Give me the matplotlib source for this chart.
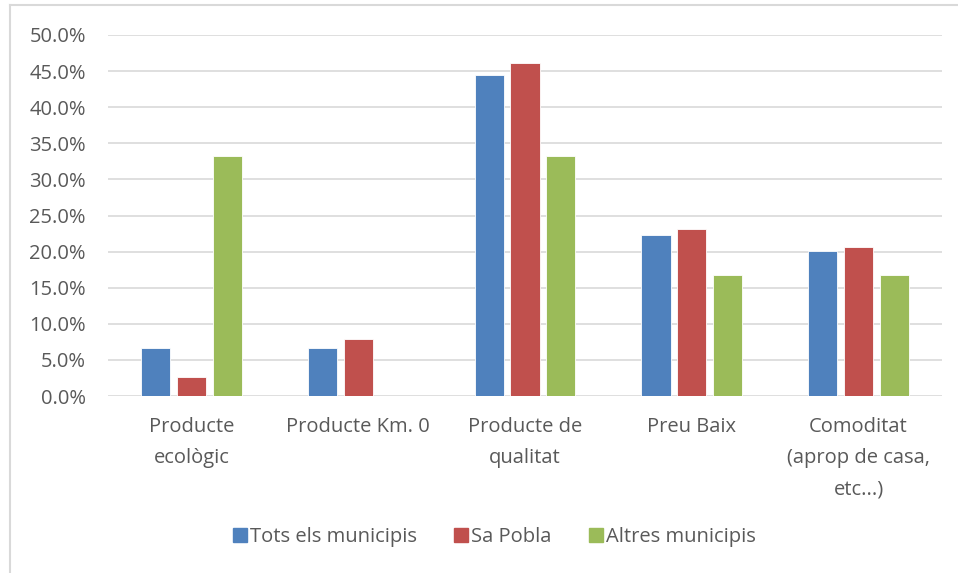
import matplotlib
matplotlib.use("Agg")
import matplotlib.pyplot as plt
from matplotlib.lines import Line2D
from matplotlib.ticker import FuncFormatter, MultipleLocator
import numpy as np

categories = ["Producte\necològic", "Producte Km. 0", "Producte de\nqualitat",
              "Preu Baix", "Comoditat\n(aprop de casa,\netc...)"]
series_names = ["Tots els municipis", "Sa Pobla", "Altres municipis"]
tots = [6.7, 6.7, 44.5, 22.3, 20.1]
sa_pobla = [2.6, 7.9, 46.1, 23.1, 20.6]
altres = [33.3, 0.0, 33.3, 16.7, 16.7]
colors = ["#4F81BD", "#C0504D", "#9BBB59"]

plt.rcParams['font.family'] = ['Open Sans', 'DejaVu Sans']

fig = plt.figure(figsize=(9.58, 5.73), dpi=100)
ax = fig.add_axes([108/958, 1-396/573, (942-108)/958, (396-35)/573])

x = np.arange(len(categories))
width = 0.175
step = 0.215
for i, (vals, name, c) in enumerate(zip([tots, sa_pobla, altres], series_names, colors)):
    ax.bar(x + (i-1)*step, vals, width, color=c, label=name, zorder=3,
           edgecolor="white", linewidth=0.6)

ax.set_xlim(-0.5, len(categories)-0.5)
ax.set_ylim(0, 50)
ax.yaxis.set_major_locator(MultipleLocator(5))
ax.yaxis.set_major_formatter(FuncFormatter(lambda v, p: f"{v:.1f}%"))
ax.grid(axis='y', color="#D9D9D9", linewidth=1.2, zorder=0)
for s in ax.spines.values():
    s.set_visible(False)
ax.tick_params(axis='both', length=0, colors="#595959", labelsize=14.5)
ax.tick_params(axis='y', pad=16)
ax.tick_params(axis='x', pad=15)
ax.set_xticks(x)
ax.set_xticklabels(categories, linespacing=1.75)

handles = [Line2D([], [], marker='s', linestyle='none', markersize=10, color=c) for c in colors]
fig.legend(handles, series_names, loc='center', bbox_to_anchor=(494/958, 1-537/573),
           ncol=3, frameon=False, fontsize=14.5, labelcolor="#595959",
           handletextpad=0.1, columnspacing=1.8, handlelength=0.8)

fig.add_artist(Line2D([10/958, 10/958], [0, 1-5/573], color="#D9D9D9", linewidth=1.5, transform=fig.transFigure))
fig.add_artist(Line2D([10/958, 1], [1-5/573, 1-5/573], color="#D9D9D9", linewidth=1.5, transform=fig.transFigure))

fig.savefig("out.png", dpi=100)
